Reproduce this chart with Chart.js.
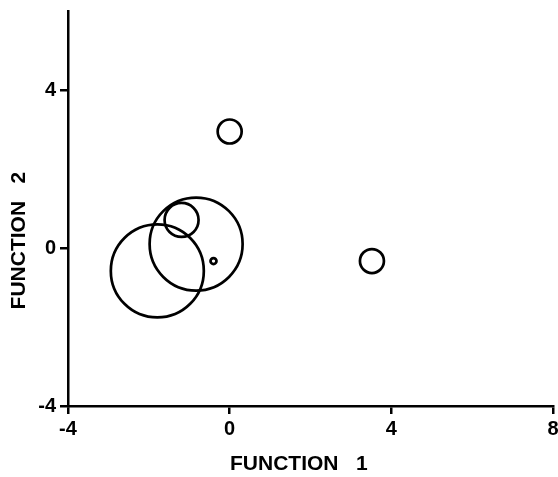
<!DOCTYPE html>
<html>
<head>
<meta charset="utf-8">
<script src="https://cdn.jsdelivr.net/npm/chart.js@4.4.1/dist/chart.umd.min.js"></script>
<style>
  html, body { margin: 0; padding: 0; background: #ffffff; }
  #wrap { width: 558px; height: 477px; position: relative; }
</style>
</head>
<body>
<div id="wrap"><canvas id="c" width="558" height="477"></canvas></div>
<script>
// Group centroids (discriminant function scores) and bubble sizes
const function1 = [-1.79, -0.83, -1.19, -0.40, 0.00, 3.52];
const function2 = [-0.58, 0.10, 0.71, -0.33, 2.95, -0.33];
const bubbleSize = [46.5, 46.5, 17, 3, 12, 12];

const xTicks = [-4, 0, 4, 8];
const yTicks = [-4, 0, 4];
const xTitle = "FUNCTION   1";
const yTitle = "FUNCTION   2";

const points = function1.map((x, i) => ({ x: x, y: function2[i], r: bubbleSize[i] }));

const tickFont = { family: "'Liberation Sans', Arial, sans-serif", size: 20, weight: 'bold' };
const titleFont = { family: "'Liberation Sans', Arial, sans-serif", size: 21, weight: 'bold' };

new Chart(document.getElementById('c'), {
  type: 'bubble',
  data: {
    datasets: [{
      data: points,
      backgroundColor: 'rgba(0,0,0,0)',
      borderColor: '#000000',
      borderWidth: 2.7,
      hoverBorderWidth: 2.7,
      hoverRadius: 0
    }]
  },
  options: {
    responsive: false,
    animation: false,
    events: [],
    layout: { autoPadding: false, padding: { top: 11, right: 5, left: 0, bottom: 0 } },
    plugins: { legend: { display: false }, tooltip: { enabled: false } },
    scales: {
      x: {
        type: 'linear',
        min: -4, max: 8,
        afterBuildTicks: s => { s.ticks = xTicks.map(v => ({ value: v })); },
        afterFit: s => { s.height = 71; s.paddingLeft = 0; s.paddingRight = 0; },
        border: { display: true, color: '#000', width: 2.5 },
        grid: { display: true, drawOnChartArea: false, drawTicks: true, tickLength: 8, color: '#000', lineWidth: 2.5 },
        ticks: { color: '#000', font: tickFont, padding: 3, maxRotation: 0, autoSkip: false },
        title: { display: true, text: xTitle + '    ', color: '#000', font: titleFont, padding: { top: 4, bottom: 0 } }
      },
      y: {
        type: 'linear',
        min: -4, max: 6,
        afterBuildTicks: s => { s.ticks = yTicks.map(v => ({ value: v })); },
        afterFit: s => { s.width = 68; s.paddingTop = 0; s.paddingBottom = 0; },
        border: { display: true, color: '#000', width: 2.5 },
        grid: { display: true, drawOnChartArea: false, drawTicks: true, tickLength: 8, color: '#000', lineWidth: 2.5 },
        ticks: { color: '#000', font: tickFont, padding: 4, autoSkip: false },
        title: { display: true, text: yTitle + '           ', color: '#000', font: titleFont, padding: { top: 7, bottom: 0 } }
      }
    }
  }
});
</script>
</body>
</html>
